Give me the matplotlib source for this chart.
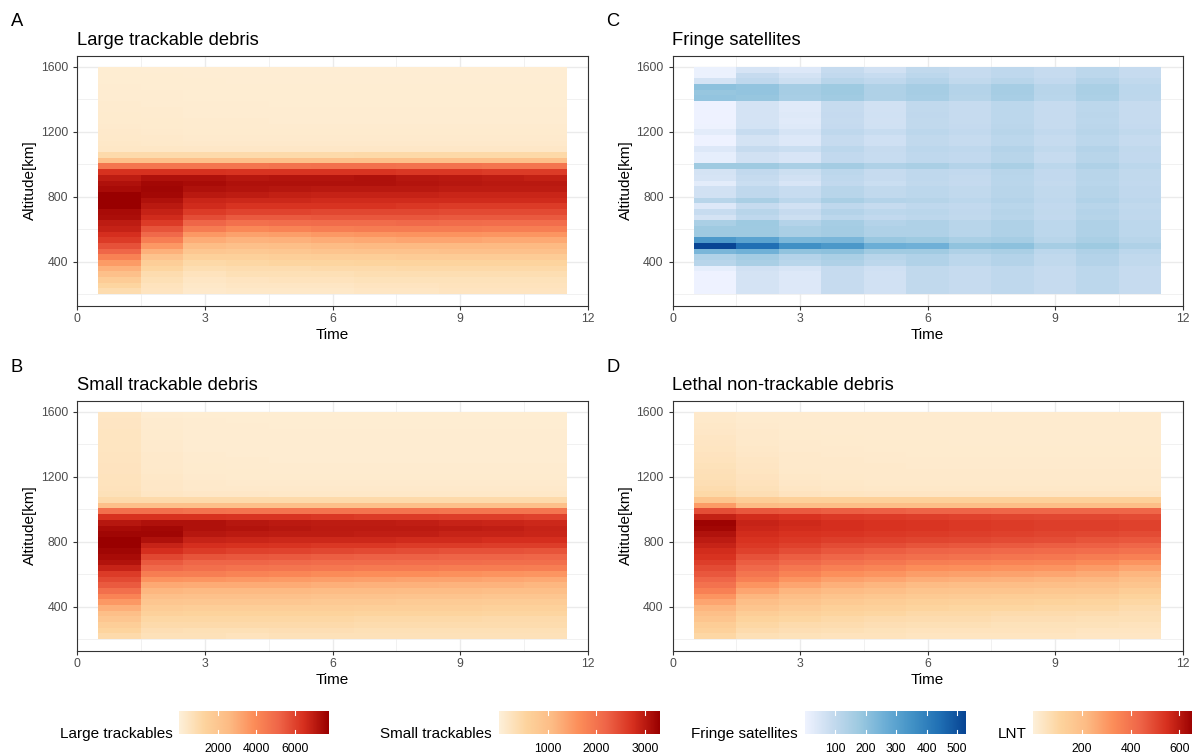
import numpy as np
import matplotlib.pyplot as plt
from matplotlib.colors import LinearSegmentedColormap
from matplotlib.ticker import FixedLocator

plt.rcParams['font.family'] = ['Liberation Sans', 'DejaVu Sans']

# time steps 1..11, altitude shells of 35 km from 200 to 1600 km
time_steps = list(range(1, 12))
alt_edges = list(range(200, 1601, 35))

# every matrix: one row per shell, listed from the top shell (1565-1600 km) down to 200-235 km
large = [
    [160, 150, 150, 140, 140, 140, 140, 140, 140, 140, 140],
    [170, 160, 150, 150, 140, 150, 140, 140, 150, 140, 150],
    [180, 170, 160, 150, 150, 150, 150, 150, 150, 150, 150],
    [190, 180, 170, 160, 160, 160, 160, 160, 160, 160, 160],
    [200, 190, 170, 170, 160, 170, 160, 170, 170, 170, 160],
    [210, 200, 180, 180, 170, 170, 170, 170, 170, 170, 170],
    [220, 210, 190, 190, 180, 180, 180, 180, 180, 180, 180],
    [240, 220, 200, 200, 190, 190, 190, 190, 190, 190, 190],
    [250, 230, 210, 210, 200, 200, 200, 200, 200, 200, 200],
    [270, 250, 220, 220, 210, 210, 210, 210, 210, 210, 210],
    [290, 270, 240, 240, 230, 230, 230, 230, 230, 230, 230],
    [310, 290, 260, 260, 250, 250, 250, 250, 250, 250, 250],
    [340, 320, 290, 290, 280, 280, 280, 280, 280, 280, 280],
    [380, 360, 330, 330, 320, 320, 320, 320, 320, 320, 320],
    [450, 430, 400, 400, 400, 400, 400, 400, 400, 400, 400],
    [1010, 1010, 1010, 1010, 1050, 1050, 1090, 1090, 1090, 1090, 1090],
    [2340, 2340, 2340, 2340, 2340, 2340, 2340, 2340, 2340, 2340, 2340],
    [4680, 4680, 4680, 4680, 4760, 4840, 4840, 4760, 4760, 4680, 4680],
    [6470, 6470, 6470, 6400, 6400, 6400, 6400, 6320, 6320, 6240, 6240],
    [7020, 7330, 7330, 7180, 7250, 7250, 7330, 7180, 7100, 7020, 6940],
    [7330, 7570, 7490, 7330, 7330, 7330, 7330, 7250, 7180, 7100, 7100],
    [7490, 7640, 7330, 7250, 7180, 7100, 7100, 7100, 7020, 7020, 7020],
    [7800, 7570, 7100, 7020, 6940, 6860, 6860, 6860, 6790, 6790, 6790],
    [7800, 7330, 6790, 6710, 6710, 6630, 6630, 6630, 6630, 6630, 6630],
    [7800, 7100, 6630, 6400, 6400, 6400, 6400, 6320, 6240, 6240, 6240],
    [7490, 6860, 6240, 6010, 6010, 5930, 5930, 5930, 5850, 5850, 5850],
    [7410, 6630, 5770, 5460, 5460, 5540, 5540, 5540, 5460, 5460, 5460],
    [7020, 6240, 5150, 4840, 4910, 4990, 4990, 5070, 4990, 4910, 4910],
    [6860, 5620, 4450, 4060, 4210, 4370, 4450, 4450, 4450, 4370, 4370],
    [6550, 5070, 3590, 3350, 3430, 3590, 3670, 3740, 3740, 3670, 3670],
    [6240, 4370, 3040, 2810, 2890, 3040, 3120, 3200, 3200, 3120, 3120],
    [5690, 3590, 2500, 2340, 2420, 2570, 2650, 2650, 2650, 2650, 2650],
    [5150, 2890, 1950, 1870, 1950, 2110, 2180, 2180, 2260, 2260, 2260],
    [4290, 2180, 1480, 1480, 1560, 1640, 1640, 1720, 1720, 1720, 1720],
    [3510, 1640, 1090, 1170, 1250, 1250, 1330, 1330, 1330, 1330, 1330],
    [2890, 1250, 860, 940, 940, 1010, 1010, 1090, 1090, 1090, 1090],
    [2340, 940, 620, 780, 780, 780, 860, 860, 860, 860, 860],
    [1720, 780, 470, 550, 620, 620, 700, 700, 700, 700, 700],
    [1250, 620, 390, 470, 470, 470, 550, 550, 620, 620, 620],
    [940, 550, 310, 390, 390, 390, 470, 470, 550, 550, 550],
]

small = [
    [200, 90, 70, 70, 70, 70, 70, 70, 70, 70, 70],
    [210, 100, 80, 70, 70, 70, 70, 70, 70, 70, 70],
    [210, 100, 80, 80, 70, 70, 70, 70, 70, 70, 70],
    [220, 110, 80, 80, 80, 80, 80, 80, 80, 80, 80],
    [220, 110, 90, 80, 80, 80, 80, 80, 80, 80, 80],
    [230, 120, 90, 90, 80, 80, 80, 80, 80, 80, 80],
    [230, 120, 90, 90, 90, 90, 90, 90, 90, 90, 90],
    [240, 130, 100, 90, 90, 90, 90, 90, 90, 90, 90],
    [240, 130, 100, 100, 90, 90, 90, 90, 90, 90, 90],
    [250, 140, 110, 100, 100, 100, 100, 100, 100, 100, 100],
    [250, 150, 110, 110, 100, 100, 100, 100, 100, 100, 100],
    [260, 160, 120, 110, 110, 110, 110, 110, 110, 110, 110],
    [270, 170, 130, 120, 120, 120, 120, 120, 120, 120, 120],
    [280, 180, 140, 140, 130, 130, 130, 130, 130, 130, 130],
    [300, 200, 170, 170, 160, 160, 160, 160, 160, 160, 160],
    [430, 430, 430, 430, 430, 430, 430, 430, 430, 430, 430],
    [990, 990, 990, 990, 990, 990, 990, 990, 990, 990, 990],
    [2050, 2050, 2020, 2000, 2000, 2000, 2000, 2000, 1980, 1980, 1980],
    [2740, 2740, 2740, 2710, 2710, 2670, 2640, 2640, 2610, 2610, 2570],
    [3040, 3100, 3100, 3040, 3000, 2970, 2970, 2940, 2900, 2870, 2840],
    [3170, 3200, 3100, 3070, 3040, 3000, 3000, 3000, 2970, 2940, 2900],
    [3230, 3230, 3040, 3000, 2970, 2970, 2940, 2940, 2900, 2900, 2870],
    [3300, 3100, 2900, 2870, 2840, 2840, 2840, 2810, 2810, 2770, 2770],
    [3300, 2900, 2770, 2740, 2710, 2670, 2670, 2640, 2640, 2610, 2610],
    [3230, 2770, 2640, 2570, 2540, 2510, 2480, 2440, 2410, 2410, 2380],
    [3170, 2510, 2380, 2340, 2310, 2280, 2240, 2240, 2210, 2210, 2180],
    [3070, 2310, 2180, 2180, 2150, 2110, 2110, 2080, 2080, 2050, 2050],
    [2900, 2150, 2050, 2010, 1980, 1950, 1910, 1910, 1880, 1880, 1850],
    [2640, 1880, 1850, 1780, 1750, 1680, 1650, 1650, 1620, 1580, 1550],
    [2480, 1580, 1550, 1520, 1490, 1450, 1420, 1390, 1390, 1350, 1320],
    [2310, 1320, 1290, 1290, 1290, 1250, 1220, 1220, 1190, 1190, 1160],
    [2050, 1160, 1120, 1120, 1120, 1090, 1090, 1060, 1060, 1020, 1020],
    [1780, 990, 960, 960, 960, 920, 920, 890, 890, 860, 860],
    [1520, 860, 830, 830, 830, 790, 790, 760, 760, 730, 730],
    [1250, 730, 690, 690, 690, 690, 660, 660, 660, 630, 630],
    [1020, 630, 590, 590, 590, 590, 560, 560, 560, 530, 530],
    [860, 500, 500, 500, 500, 500, 460, 460, 460, 430, 430],
    [690, 430, 430, 430, 430, 430, 400, 400, 400, 400, 400],
    [560, 360, 330, 330, 360, 360, 330, 330, 330, 330, 330],
    [430, 300, 300, 260, 300, 300, 300, 300, 300, 300, 300],
]

fringe = [
    [10, 55, 40, 88, 66, 100, 88, 105, 88, 110, 90],
    [10, 88, 58, 98, 85, 110, 88, 105, 88, 110, 90],
    [58, 105, 75, 120, 105, 130, 100, 120, 98, 130, 100],
    [205, 195, 160, 177, 140, 160, 130, 160, 120, 150, 110],
    [190, 195, 160, 177, 140, 160, 130, 160, 120, 150, 110],
    [195, 190, 155, 170, 140, 155, 125, 155, 118, 145, 108],
    [4, 58, 35, 90, 65, 100, 90, 110, 88, 110, 90],
    [4, 58, 35, 90, 65, 100, 90, 110, 88, 110, 90],
    [4, 60, 38, 92, 68, 102, 90, 110, 88, 112, 90],
    [4, 58, 35, 90, 65, 100, 90, 110, 88, 110, 90],
    [6, 62, 38, 92, 68, 100, 92, 112, 90, 112, 92],
    [25, 85, 55, 105, 85, 110, 98, 120, 98, 120, 100],
    [4, 60, 40, 90, 70, 100, 90, 110, 90, 110, 90],
    [4, 60, 40, 90, 70, 100, 90, 110, 90, 110, 90],
    [40, 90, 80, 110, 90, 110, 105, 130, 100, 130, 100],
    [20, 65, 50, 98, 85, 105, 98, 120, 90, 120, 98],
    [20, 65, 50, 98, 85, 105, 98, 120, 90, 120, 98],
    [175, 175, 150, 165, 140, 150, 130, 150, 110, 140, 110],
    [58, 98, 75, 110, 90, 105, 98, 120, 98, 120, 100],
    [55, 90, 65, 105, 88, 105, 95, 118, 98, 120, 100],
    [25, 80, 50, 98, 80, 100, 92, 115, 95, 118, 98],
    [65, 105, 85, 120, 100, 110, 100, 120, 100, 125, 102],
    [65, 105, 85, 120, 100, 110, 100, 120, 100, 125, 102],
    [120, 150, 110, 150, 130, 125, 110, 130, 105, 135, 108],
    [40, 90, 65, 105, 88, 105, 98, 118, 98, 120, 100],
    [85, 120, 90, 130, 110, 115, 102, 125, 100, 130, 104],
    [60, 105, 75, 110, 98, 108, 100, 120, 98, 125, 102],
    [150, 177, 130, 160, 130, 140, 120, 140, 110, 140, 110],
    [175, 175, 150, 165, 140, 140, 120, 140, 110, 140, 110],
    [175, 175, 150, 165, 140, 140, 120, 140, 110, 140, 110],
    [330, 300, 235, 240, 185, 177, 150, 160, 120, 150, 120],
    [530, 445, 360, 335, 265, 258, 200, 205, 160, 177, 140],
    [240, 255, 200, 205, 170, 170, 140, 150, 110, 140, 110],
    [135, 165, 130, 150, 120, 135, 110, 130, 100, 130, 100],
    [120, 150, 118, 140, 110, 135, 110, 130, 100, 130, 100],
    [20, 65, 50, 90, 70, 100, 90, 105, 88, 110, 90],
    [4, 60, 40, 88, 66, 100, 90, 105, 88, 110, 90],
    [4, 60, 40, 88, 66, 100, 90, 105, 88, 110, 90],
    [4, 60, 40, 88, 66, 100, 90, 105, 88, 110, 90],
    [4, 60, 40, 88, 66, 100, 90, 105, 88, 110, 90],
]

lnt = [
    [26, 20, 20, 20, 20, 20, 20, 20, 20, 20, 20],
    [30, 22, 20, 20, 20, 20, 20, 20, 20, 20, 20],
    [33, 24, 20, 20, 20, 20, 20, 20, 20, 20, 20],
    [36, 26, 22, 20, 20, 20, 20, 20, 20, 20, 20],
    [39, 28, 22, 22, 20, 20, 20, 20, 20, 20, 20],
    [42, 30, 24, 22, 22, 22, 20, 20, 20, 20, 20],
    [46, 33, 24, 24, 22, 22, 22, 22, 22, 22, 22],
    [50, 36, 26, 24, 24, 22, 22, 22, 22, 22, 22],
    [54, 39, 26, 26, 24, 24, 24, 24, 24, 24, 24],
    [58, 42, 28, 26, 26, 24, 24, 24, 24, 24, 24],
    [62, 46, 30, 28, 26, 26, 26, 26, 26, 26, 26],
    [66, 50, 33, 30, 28, 28, 28, 28, 28, 28, 28],
    [72, 55, 36, 33, 30, 30, 30, 30, 30, 30, 30],
    [78, 60, 40, 36, 33, 33, 33, 33, 33, 33, 33],
    [91, 72, 50, 46, 42, 42, 42, 42, 42, 42, 42],
    [176, 143, 130, 130, 130, 130, 130, 130, 130, 130, 130],
    [299, 215, 208, 208, 208, 208, 208, 208, 208, 208, 208],
    [488, 468, 462, 455, 449, 442, 442, 436, 436, 436, 436],
    [585, 559, 546, 533, 527, 520, 514, 507, 501, 501, 494],
    [650, 579, 566, 553, 546, 540, 533, 527, 520, 520, 514],
    [644, 572, 559, 553, 546, 540, 533, 527, 520, 520, 514],
    [618, 559, 546, 540, 533, 527, 520, 514, 507, 501, 494],
    [598, 546, 533, 520, 514, 507, 501, 494, 488, 475, 468],
    [579, 533, 514, 494, 488, 475, 468, 462, 455, 449, 436],
    [559, 514, 488, 468, 455, 442, 436, 429, 423, 416, 403],
    [546, 481, 455, 436, 423, 410, 403, 397, 390, 377, 364],
    [520, 455, 429, 403, 390, 371, 364, 358, 351, 338, 312],
    [494, 429, 390, 364, 351, 332, 325, 319, 312, 299, 273],
    [468, 397, 358, 325, 312, 293, 286, 280, 273, 260, 234],
    [436, 364, 312, 286, 273, 254, 247, 241, 234, 228, 202],
    [403, 312, 273, 247, 234, 215, 208, 208, 202, 195, 176],
    [364, 273, 234, 215, 202, 182, 176, 176, 169, 169, 143],
    [312, 234, 202, 182, 169, 156, 150, 143, 143, 137, 117],
    [273, 202, 176, 156, 143, 130, 124, 124, 117, 111, 98],
    [234, 176, 150, 130, 124, 111, 104, 104, 98, 98, 85],
    [202, 143, 124, 111, 104, 91, 91, 85, 85, 78, 72],
    [176, 117, 104, 91, 85, 78, 78, 72, 72, 65, 65],
    [143, 98, 85, 78, 72, 65, 65, 59, 59, 59, 52],
    [124, 85, 72, 65, 59, 52, 52, 52, 52, 46, 46],
    [98, 65, 59, 52, 52, 46, 46, 46, 46, 39, 39],
]

panel_titles = ["Large trackable debris", "Small trackable debris",
                "Fringe satellites", "Lethal non-trackable debris"]
legend_titles = ["Large trackables", "Small trackables", "Fringe satellites", "LNT"]
legend_max = [7800, 3300, 530, 660]
legend_ticks = [[2000, 4000, 6000], [1000, 2000, 3000],
                [100, 200, 300, 400, 500], [200, 400, 600]]

orrd = LinearSegmentedColormap.from_list(
    "orrd", ["#FEF0D9", "#FDD49E", "#FDBB84", "#FC8D59", "#EF6548", "#D7301F", "#990000"])
blues = LinearSegmentedColormap.from_list(
    "blues", ["#EFF3FF", "#C6DBEF", "#9ECAE1", "#6BAED6", "#4292C6", "#2171B5", "#084594"])

W, H = 1192, 753
fig = plt.figure(figsize=(W / 100, H / 100), dpi=100)


def px_axes(x0, y0, x1, y1):
    return fig.add_axes([x0 / W, 1 - y1 / H, (x1 - x0) / W, (y1 - y0) / H])


def heat_panel(box, data, cmap, vmax, title, tag):
    x0, y0, x1, y1 = box
    ax = px_axes(x0, y0, x1, y1)
    x_edges = np.arange(0.5, 12, 1.0)
    z = np.array(data, dtype=float)[::-1]
    ax.pcolormesh(x_edges, alt_edges, z, cmap=cmap, vmin=0, vmax=vmax,
                  shading='flat', zorder=2)
    ax.set_xlim(0, 12)
    ax.set_ylim(130, 1670)
    ax.set_xticks([0, 3, 6, 9, 12])
    ax.set_yticks([400, 800, 1200, 1600])
    ax.xaxis.set_minor_locator(FixedLocator([1.5, 4.5, 7.5, 10.5]))
    ax.yaxis.set_minor_locator(FixedLocator([200, 600, 1000, 1400]))
    ax.grid(which='major', color='#EBEBEB', linewidth=1.0, zorder=0)
    ax.grid(which='minor', color='#EBEBEB', linewidth=0.5, zorder=0)
    ax.set_axisbelow(True)
    ax.tick_params(which='major', length=2.75, width=0.8, color='#333333',
                   labelsize=8.8, labelcolor='#4D4D4D')
    ax.tick_params(axis='y', which='major', pad=3.6)
    ax.tick_params(axis='x', which='major', pad=3.0)
    ax.tick_params(which='minor', length=0)
    for s in ax.spines.values():
        s.set_color('#333333')
        s.set_linewidth(0.8)
    fig.text((x0 - 47) / W, 1 - (y0 + y1) / 2 / H, "Altitude[km]", rotation=90,
             ha='center', va='center', fontsize=11)
    fig.text((x0 + x1) / 2 / W, 1 - (y1 + 29) / H, "Time", ha='center', va='center', fontsize=11)
    fig.text(x0 / W, 1 - (y0 - 10.5) / H, title, ha='left', va='baseline', fontsize=13.2)
    fig.text((x0 - 66) / W, 1 - (y0 - 29) / H, tag, ha='left', va='baseline', fontsize=13.2)
    return ax


boxes = [(77, 55.5, 588, 305.5), (77, 400.5, 588, 650.5),
         (672.5, 55.5, 1182.5, 305.5), (672.5, 400.5, 1182.5, 650.5)]
datas = [large, small, fringe, lnt]
cmaps = [orrd, orrd, blues, orrd]
tags = ["A", "B", "C", "D"]
for box, data, cmap, vmax, title, tag in zip(boxes, datas, cmaps, legend_max, panel_titles, tags):
    heat_panel(box, data, cmap, vmax, title, tag)

# colour bars along the bottom
bar_x = [(179.3, 329.3), (499, 659.7), (805, 966), (1033.3, 1194)]
for i, (bx0, bx1) in enumerate(bar_x):
    cax = px_axes(bx0, 710.7, bx1, 734.3)
    vmax = legend_max[i]
    cm = blues if i == 2 else orrd
    grad = np.linspace(0, vmax, 300)[None, :]
    cax.imshow(grad, aspect='auto', cmap=cm, vmin=0, vmax=vmax,
               extent=(0, vmax, 0, 1), interpolation='bilinear')
    for t in legend_ticks[i]:
        cax.plot([t, t], [0, 0.2], color='white', lw=0.8)
        cax.plot([t, t], [0.8, 1], color='white', lw=0.8)
    cax.set_xlim(0, vmax)
    cax.set_ylim(0, 1)
    cax.set_yticks([])
    cax.set_xticks(legend_ticks[i])
    cax.tick_params(length=0, labelsize=8.8, pad=6.5, labelcolor='black')
    for s in cax.spines.values():
        s.set_visible(False)
    fig.text((bx0 - 7) / W, 1 - 738 / H, legend_titles[i], ha='right', va='baseline', fontsize=11)

fig.savefig("out.png", dpi=100)
